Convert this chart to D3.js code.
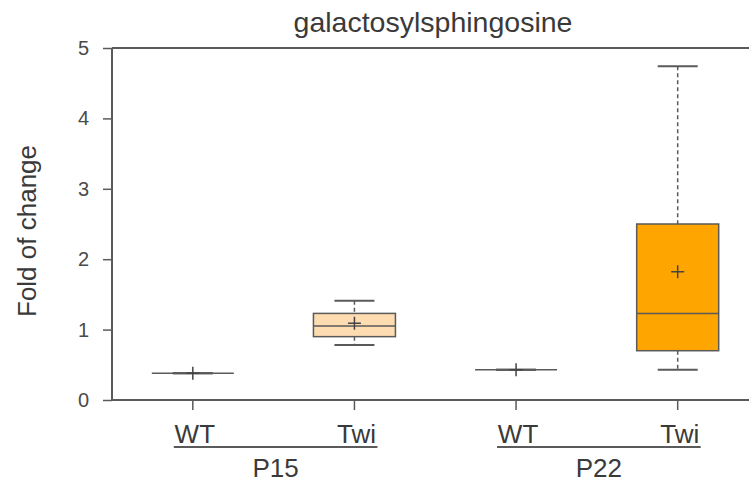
<!DOCTYPE html>
<html>
<head>
<meta charset="utf-8">
<script src="https://cdn.jsdelivr.net/npm/d3@7"></script>
<style>
  body { margin: 0; background: #fff; }
  svg { display: block; font-family: Arial, "Liberation Sans", sans-serif; }
</style>
</head>
<body>
<div id="chart"></div>
<script>
// box summary values, one per box
var groups = ['P15', 'P22'];
var categories = ['WT', 'Twi', 'WT', 'Twi'];
var minV = [0.38, 0.78, 0.43, 0.43];
var q1 = [0.38, 0.90, 0.43, 0.70];
var median = [0.38, 1.05, 0.43, 1.23];
var q3 = [0.38, 1.23, 0.43, 2.50];
var maxV = [0.38, 1.41, 0.43, 4.74];
var mean = [0.38, 1.09, 0.43, 1.82];
var fills = ['#ffffff', '#fddcb1', '#ffffff', '#ffa500'];
var yTicks = [0, 1, 2, 3, 4, 5];

var W = 749, H = 483;
var pLeft = 112, pTop = 48, pBottom = 400, pRight = 758.5;
var lineCol = '#5a5a5a', textCol = '#3a3a3a';

var svg = d3.select('#chart').append('svg')
  .attr('width', W)
  .attr('height', H);

var y = d3.scaleLinear().domain([0, 5]).range([pBottom, pTop]);
var x = d3.scaleLinear().domain([0, categories.length]).range([pLeft, pRight]);

var boxes = categories.map(function(c, i){
  return {cat: c, i: i, min: minV[i], q1: q1[i], med: median[i], q3: q3[i], max: maxV[i], mean: mean[i], fill: fills[i]};
});

// y axis
var yAxis = d3.axisLeft(y).tickValues(yTicks).tickSize(9).tickPadding(14).tickFormat(d3.format('d'));
var ga = svg.append('g').attr('transform', 'translate(' + pLeft + ',0)').call(yAxis);
ga.select('.domain').remove();
ga.selectAll('line').attr('stroke', lineCol).attr('stroke-width', 1.5);
ga.selectAll('text').attr('fill', '#4a4a4a').style('font-size', '20px')
  .style('font-family', 'Arial, "Liberation Sans", sans-serif');

// frame
svg.append('line').attr('x1', pLeft).attr('x2', W).attr('y1', pTop).attr('y2', pTop)
  .attr('stroke', lineCol).attr('stroke-width', 2);
svg.append('line').attr('x1', pLeft).attr('x2', W).attr('y1', pBottom).attr('y2', pBottom)
  .attr('stroke', lineCol).attr('stroke-width', 2);
svg.append('line').attr('x1', pLeft).attr('x2', pLeft).attr('y1', pTop).attr('y2', pBottom)
  .attr('stroke', lineCol).attr('stroke-width', 2);

// x ticks
svg.selectAll('.xtick').data(boxes).enter().append('line')
  .attr('x1', function(d){ return x(d.i + 0.5); })
  .attr('x2', function(d){ return x(d.i + 0.5); })
  .attr('y1', pBottom).attr('y2', pBottom + 10)
  .attr('stroke', lineCol).attr('stroke-width', 1.5);

var bw = 41, cw = 20;
var g = svg.selectAll('.box').data(boxes).enter().append('g');

// whiskers
g.append('line')
  .attr('x1', function(d){ return x(d.i + 0.5); })
  .attr('x2', function(d){ return x(d.i + 0.5); })
  .attr('y1', function(d){ return y(d.max); })
  .attr('y2', function(d){ return y(d.q3); })
  .attr('stroke', lineCol).attr('stroke-width', 1.5).attr('stroke-dasharray', '4,3');
g.append('line')
  .attr('x1', function(d){ return x(d.i + 0.5); })
  .attr('x2', function(d){ return x(d.i + 0.5); })
  .attr('y1', function(d){ return y(d.q1); })
  .attr('y2', function(d){ return y(d.min); })
  .attr('stroke', lineCol).attr('stroke-width', 1.5).attr('stroke-dasharray', '4,3');
['min', 'max'].forEach(function(k){
  g.append('line')
    .attr('x1', function(d){ return x(d.i + 0.5) - cw; })
    .attr('x2', function(d){ return x(d.i + 0.5) + cw; })
    .attr('y1', function(d){ return y(d[k]); })
    .attr('y2', function(d){ return y(d[k]); })
    .attr('stroke', lineCol).attr('stroke-width', 2);
});

// box
g.append('rect')
  .attr('x', function(d){ return x(d.i + 0.5) - bw; })
  .attr('width', bw * 2)
  .attr('y', function(d){ return y(d.q3); })
  .attr('height', function(d){ return y(d.q1) - y(d.q3); })
  .attr('fill', function(d){ return d.fill; })
  .attr('stroke', lineCol).attr('stroke-width', 1.5);
g.append('line')
  .attr('x1', function(d){ return x(d.i + 0.5) - bw; })
  .attr('x2', function(d){ return x(d.i + 0.5) + bw; })
  .attr('y1', function(d){ return y(d.med); })
  .attr('y2', function(d){ return y(d.med); })
  .attr('stroke', lineCol).attr('stroke-width', 1.5);

// mean marker
g.append('path')
  .attr('d', function(d){
    var cx = x(d.i + 0.5), cy = y(d.mean), s = 6.5;
    return 'M' + (cx - s) + ',' + cy + 'H' + (cx + s) + 'M' + cx + ',' + (cy - s) + 'V' + (cy + s);
  })
  .attr('stroke', '#444').attr('stroke-width', 1.5).attr('fill', 'none');

// category labels
svg.selectAll('.cat').data(boxes).enter().append('text')
  .attr('x', function(d){ return x(d.i + 0.5) + 2; })
  .attr('y', 443)
  .attr('text-anchor', 'middle')
  .attr('fill', textCol)
  .style('font-size', '26px')
  .text(function(d){ return d.cat; });

// group underline and label
groups.forEach(function(gr, j){
  var a = x(j * 2 + 0.5), b = x(j * 2 + 1.5);
  svg.append('line')
    .attr('x1', a - 19).attr('x2', b + 23)
    .attr('y1', 447).attr('y2', 447)
    .attr('stroke', lineCol).attr('stroke-width', 2);
  svg.append('text')
    .attr('x', (a + b) / 2 + 2).attr('y', 477)
    .attr('text-anchor', 'middle')
    .attr('fill', textCol)
    .style('font-size', '26px')
    .text(gr);
});

// title
svg.append('text')
  .attr('x', 433).attr('y', 32)
  .attr('text-anchor', 'middle')
  .attr('fill', textCol)
  .style('font-size', '28.5px')
  .text('galactosylsphingosine');

// y label
svg.append('text')
  .attr('transform', 'translate(36,231) rotate(-90)')
  .attr('text-anchor', 'middle')
  .attr('fill', textCol)
  .style('font-size', '26px')
  .text('Fold of change');
</script>
</body>
</html>
